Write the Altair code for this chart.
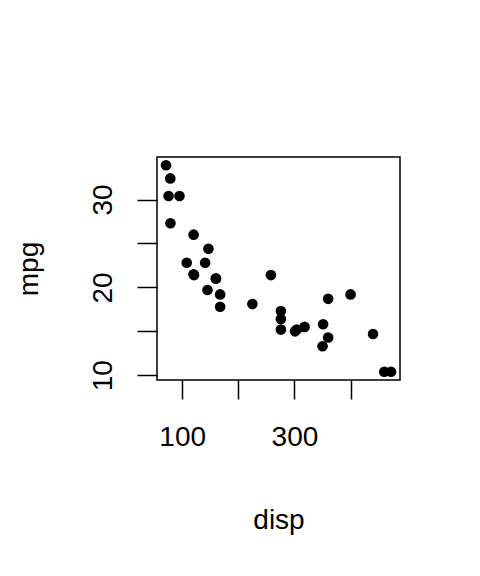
import altair as alt
import pandas as pd

disp = [160, 160, 108, 258, 360, 225, 360, 146.7, 140.8, 167.6, 167.6, 275.8, 275.8, 275.8,
        472, 460, 440, 78.7, 75.7, 71.1, 120.1, 318, 304, 350, 400, 79, 120.3, 95.1, 351,
        145, 301, 121]
mpg = [21.0, 21.0, 22.8, 21.4, 18.7, 18.1, 14.3, 24.4, 22.8, 19.2, 17.8, 16.4, 17.3, 15.2,
       10.4, 10.4, 14.7, 32.4, 30.4, 33.9, 21.5, 15.5, 15.2, 13.3, 19.2, 27.3, 26.0, 30.4, 15.8,
       19.7, 15.0, 21.4]

x_ticks = [100, 200, 300, 400]
x_labels = [100, 300]
y_ticks = [10, 15, 20, 25, 30]
y_labels = [10, 20, 30]

df = pd.DataFrame({"disp": disp, "mpg": mpg})

xmin, xmax = min(disp), max(disp)
ymin, ymax = min(mpg), max(mpg)
xr, yr = xmax - xmin, ymax - ymin
xdom = [xmin - 0.04 * xr, xmax + 0.04 * xr]
ydom = [ymin - 0.04 * yr, ymax + 0.04 * yr]

FONT = "Liberation Sans"
FS = 28

def label_expr(vals):
    cond = " || ".join(f"datum.value == {v}" for v in vals)
    return f"({cond}) ? datum.label : ''"

chart = alt.Chart(df).mark_circle(size=113, color="black", opacity=1).encode(
    x=alt.X("disp:Q",
            scale=alt.Scale(domain=xdom, nice=False, zero=False),
            axis=alt.Axis(values=x_ticks, labelExpr=label_expr(x_labels), title="disp",
                          grid=False, domain=False, tickColor="black", tickWidth=1.5,
                          tickSize=19, labelPadding=24, labelFont=FONT, labelFontSize=FS,
                          labelColor="black", labelOverlap=False, labelFlush=False,
                          labelBaseline="top",
                          titleFont=FONT, titleFontSize=FS, titleFontWeight="normal",
                          titleColor="black", titleX=121.5, titleY=148,
                          titleBaseline="alphabetic", titleAlign="center")),
    y=alt.Y("mpg:Q",
            scale=alt.Scale(domain=ydom, nice=False, zero=False),
            axis=alt.Axis(values=y_ticks, labelExpr=label_expr(y_labels), title="mpg",
                          grid=False, domain=False, tickColor="black", tickWidth=1.5,
                          tickSize=20, labelPadding=26, labelAngle=270, labelAlign="center",
                          labelBaseline="alphabetic", labelFont=FONT, labelFontSize=FS,
                          labelColor="black", labelOverlap=False, labelFlush=False,
                          titleFont=FONT, titleFontSize=FS, titleFontWeight="normal",
                          titleColor="black", titleX=-120, titleY=111.5, titleAngle=270,
                          titleBaseline="alphabetic", titleAlign="center")),
).properties(
    width=243, height=223,
    autosize=alt.AutoSizeParams(type="none"),
    padding={"left": 149, "top": 149, "right": 72, "bottom": 188},
    background="white",
).configure_view(stroke="black", strokeWidth=1.5)

chart.save("out.html", embed_options={"renderer": "svg", "actions": False})
